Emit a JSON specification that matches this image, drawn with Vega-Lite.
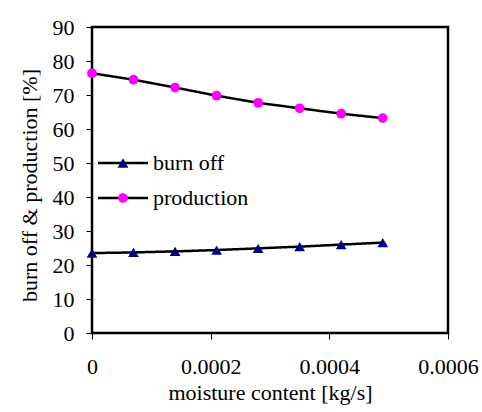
{
  "$schema": "https://vega.github.io/schema/vega-lite/v6.json",
  "width": 356,
  "height": 306,
  "autosize": "none",
  "padding": {"left": 92, "top": 27, "right": 34, "bottom": 79},
  "background": "white",
  "config": {
    "font": "Liberation Serif",
    "view": {"stroke": "black", "strokeWidth": 2.5},
    "axis": {
      "domain": false,
      "grid": false,
      "ticks": true,
      "tickColor": "black",
      "tickSize": 6,
      "tickWidth": 1,
      "labelFont": "Liberation Serif",
      "labelFontSize": 22,
      "labelColor": "black",
      "titleFont": "Liberation Serif",
      "titleFontSize": 22,
      "titleFontWeight": "normal",
      "titleColor": "black"
    },
    "legend": {
      "labelFont": "Liberation Serif",
      "labelFontSize": 22,
      "labelColor": "black",
      "padding": 0,
      "rowPadding": 13
    }
  },
  "data": {
    "values": [
      {"moisture": 0, "series": "burn off", "value": 23.5},
      {"moisture": 0.00007, "series": "burn off", "value": 23.7},
      {"moisture": 0.00014, "series": "burn off", "value": 24.0},
      {"moisture": 0.00021, "series": "burn off", "value": 24.4},
      {"moisture": 0.00028, "series": "burn off", "value": 24.9},
      {"moisture": 0.00035, "series": "burn off", "value": 25.4},
      {"moisture": 0.00042, "series": "burn off", "value": 26.0},
      {"moisture": 0.00049, "series": "burn off", "value": 26.6},
      {"moisture": 0, "series": "production", "value": 76.4},
      {"moisture": 0.00007, "series": "production", "value": 74.5},
      {"moisture": 0.00014, "series": "production", "value": 72.2},
      {"moisture": 0.00021, "series": "production", "value": 69.8},
      {"moisture": 0.00028, "series": "production", "value": 67.7},
      {"moisture": 0.00035, "series": "production", "value": 66.1},
      {"moisture": 0.00042, "series": "production", "value": 64.5},
      {"moisture": 0.00049, "series": "production", "value": 63.2}
    ]
  },
  "encoding": {
    "x": {
      "field": "moisture",
      "type": "quantitative",
      "scale": {"domain": [0, 0.0006], "nice": false, "zero": false},
      "axis": {
        "title": "moisture content [kg/s]",
        "values": [0, 0.0002, 0.0004, 0.0006],
        "format": "~g",
        "labelPadding": 17,
        "titlePadding": 5,
        "labelFlush": false
      }
    },
    "y": {
      "field": "value",
      "type": "quantitative",
      "scale": {"domain": [0, 90], "nice": false},
      "axis": {
        "title": "burn off & production [%]",
        "values": [0, 10, 20, 30, 40, 50, 60, 70, 80, 90],
        "labelPadding": 12,
        "titlePadding": 11,
        "titleY": 158,
        "labelFlush": false
      }
    }
  },
  "layer": [
    {
      "mark": {"type": "line", "color": "black", "strokeWidth": 2.5},
      "encoding": {
        "strokeDash": {
          "field": "series",
          "type": "nominal",
          "scale": {"domain": ["burn off", "production"], "range": [[1, 0], [1, 0]]},
          "legend": {
            "title": null,
            "orient": "none",
            "legendX": 6,
            "legendY": 125,
            "zindex": 1,
            "symbolType": "M-3.125,0H3.125",
            "symbolSize": 256,
            "symbolStrokeWidth": 2.5,
            "symbolStrokeColor": "black",
            "symbolOffset": 14,
            "labelOffset": 19
          }
        }
      }
    },
    {
      "mark": {"type": "point", "filled": true, "opacity": 1},
      "encoding": {
        "color": {
          "field": "series",
          "type": "nominal",
          "scale": {"range": ["#000080", "#ff00ff"]},
          "legend": {
            "title": null,
            "orient": "none",
            "legendX": 6,
            "legendY": 125,
            "zindex": 2,
            "symbolSize": 100,
            "symbolStrokeWidth": 0,
            "symbolOpacity": 1,
            "symbolOffset": 14,
            "labelOffset": 19,
            "labelOpacity": 0
          }
        },
        "shape": {
          "field": "series",
          "type": "nominal",
          "scale": {"range": ["triangle-up", "circle"]}
        },
        "size": {
          "field": "series",
          "type": "nominal",
          "scale": {"range": [115, 95]},
          "legend": null
        }
      }
    }
  ]
}
